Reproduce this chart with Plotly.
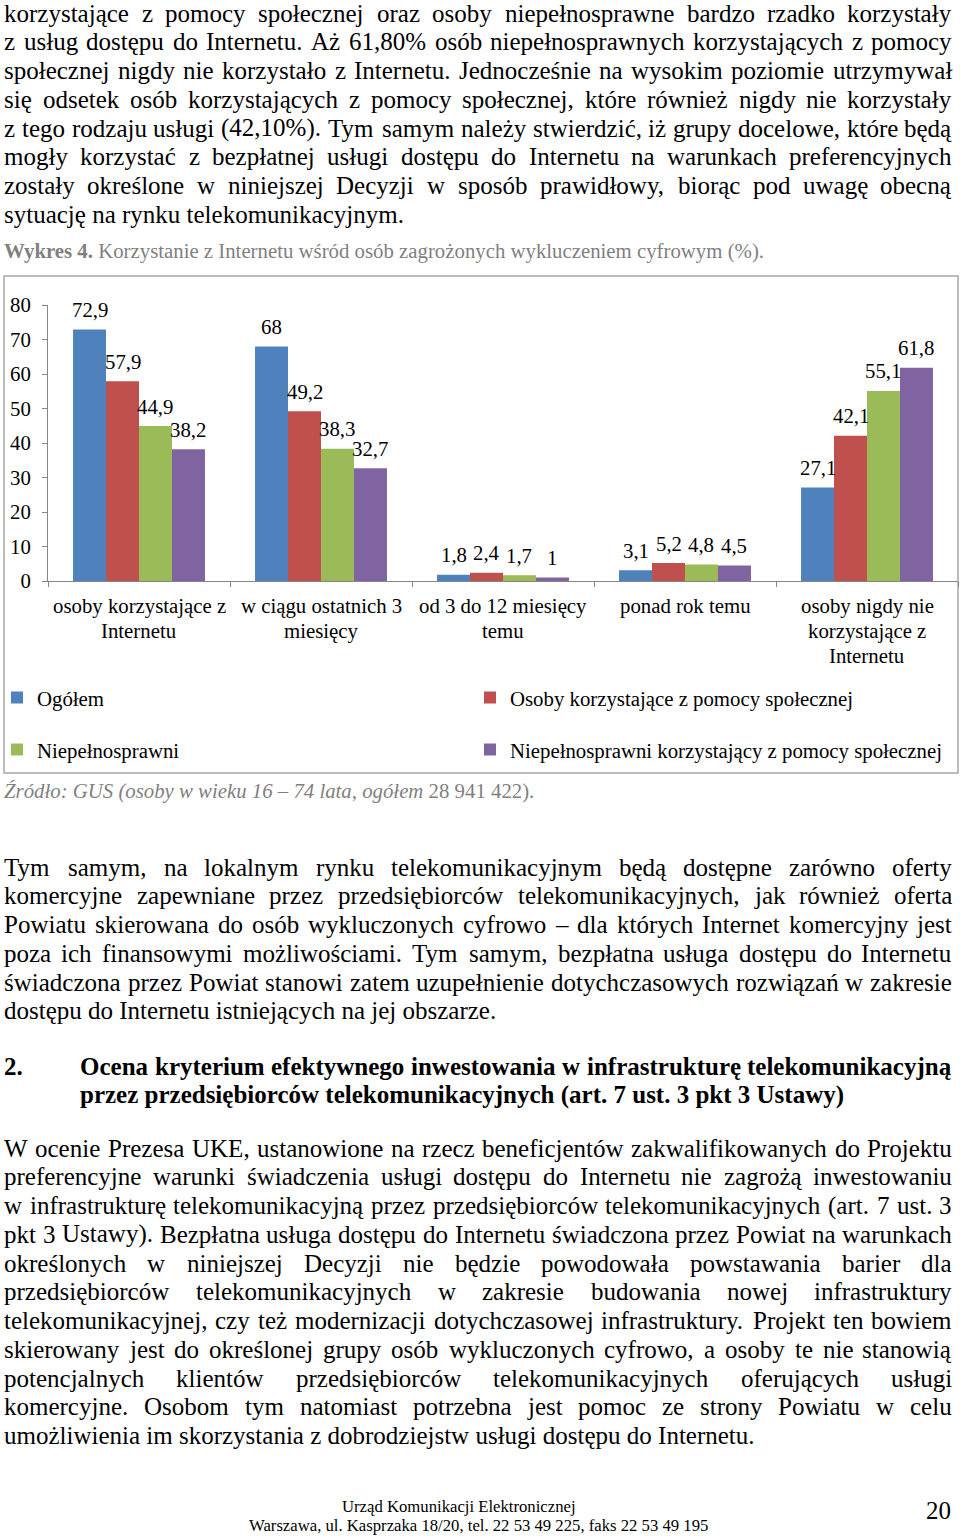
import glob
import struct
import plotly.graph_objects as go

# ---------------- data ----------------
categories = ["osoby korzystające z Internetu", "w ciągu ostatnich 3 miesięcy",
              "od 3 do 12 miesięcy temu", "ponad rok temu",
              "osoby nigdy nie korzystające z Internetu"]
category_lines = [["osoby korzystające z", "Internetu"],
                  ["w ciągu ostatnich 3", "miesięcy"],
                  ["od 3 do 12 miesięcy", "temu"],
                  ["ponad rok temu"],
                  ["osoby nigdy nie", "korzystające z", "Internetu"]]
series_names = ["Ogółem", "Osoby korzystające z pomocy społecznej",
                "Niepełnosprawni", "Niepełnosprawni korzystający z pomocy społecznej"]
ogolem = [72.9, 68, 1.8, 3.1, 27.1]
pomoc_spoleczna = [57.9, 49.2, 2.4, 5.2, 42.1]
niepelnosprawni = [44.9, 38.3, 1.7, 4.8, 55.1]
niepelnosprawni_pomoc = [38.2, 32.7, 1.0, 4.5, 61.8]
series_values = [ogolem, pomoc_spoleczna, niepelnosprawni, niepelnosprawni_pomoc]
y_ticks = [0, 10, 20, 30, 40, 50, 60, 70, 80]

para1 = [
    "korzystające z pomocy społecznej oraz osoby niepełnosprawne bardzo rzadko korzystały",
    "z usług dostępu do Internetu. Aż 61,80% osób niepełnosprawnych korzystających z pomocy",
    "społecznej nigdy nie korzystało z Internetu. Jednocześnie na wysokim poziomie utrzymywał",
    "się odsetek osób korzystających z pomocy społecznej, które również nigdy nie korzystały",
    "z tego rodzaju usługi (42,10%). Tym samym należy stwierdzić, iż grupy docelowe, które będą",
    "mogły korzystać z bezpłatnej usługi dostępu do Internetu na warunkach preferencyjnych",
    "zostały określone w niniejszej Decyzji w sposób prawidłowy, biorąc pod uwagę obecną",
    "sytuację na rynku telekomunikacyjnym.",
]
caption_bold = "Wykres 4."
caption_text = "Korzystanie z Internetu wśród osób zagrożonych wykluczeniem cyfrowym (%)."
source_italic = "Źródło: GUS (osoby w wieku 16 – 74 lata, ogółem"
source_plain = "28 941 422)."
para2 = [
    "Tym samym, na lokalnym rynku telekomunikacyjnym będą dostępne zarówno oferty",
    "komercyjne zapewniane przez przedsiębiorców telekomunikacyjnych, jak również oferta",
    "Powiatu skierowana do osób wykluczonych cyfrowo – dla których Internet komercyjny jest",
    "poza ich finansowymi możliwościami. Tym samym, bezpłatna usługa dostępu do Internetu",
    "świadczona przez Powiat stanowi zatem uzupełnienie dotychczasowych rozwiązań w zakresie",
    "dostępu do Internetu istniejących na jej obszarze.",
]
heading_num = "2."
heading = [
    "Ocena kryterium efektywnego inwestowania w infrastrukturę telekomunikacyjną",
    "przez przedsiębiorców telekomunikacyjnych (art. 7 ust. 3 pkt 3 Ustawy)",
]
para3 = [
    "W ocenie Prezesa UKE, ustanowione na rzecz beneficjentów zakwalifikowanych do Projektu",
    "preferencyjne warunki świadczenia usługi dostępu do Internetu nie zagrożą inwestowaniu",
    "w infrastrukturę telekomunikacyjną przez przedsiębiorców telekomunikacyjnych (art. 7 ust. 3",
    "pkt 3 Ustawy). Bezpłatna usługa dostępu do Internetu świadczona przez Powiat na warunkach",
    "określonych w niniejszej Decyzji nie będzie powodowała powstawania barier dla",
    "przedsiębiorców telekomunikacyjnych w zakresie budowania nowej infrastruktury",
    "telekomunikacyjnej, czy też modernizacji dotychczasowej infrastruktury. Projekt ten bowiem",
    "skierowany jest do określonej grupy osób wykluczonych cyfrowo, a osoby te nie stanowią",
    "potencjalnych klientów przedsiębiorców telekomunikacyjnych oferujących usługi",
    "komercyjne. Osobom tym natomiast potrzebna jest pomoc ze strony Powiatu w celu",
    "umożliwienia im skorzystania z dobrodziejstw usługi dostępu do Internetu.",
]
footer = ["Urząd Komunikacji Elektronicznej",
          "Warszawa, ul. Kasprzaka 18/20, tel. 22 53 49 225, faks 22 53 49 195"]
page_number = "20"

# ---------------- styling ----------------
W, H = 960, 1538
FONT = "Liberation Serif, Times New Roman, serif"
colors = ["#4F81BD", "#C0504D", "#9BBB59", "#8064A2"]
AXIS_GRAY = "#868686"


# ---------------- font metrics (for justified text) ----------------
def load_widths(name):
    paths = []
    for root in ["/usr/share/fonts", "/usr/local/share/fonts"]:
        paths += glob.glob(root + "/**/" + name, recursive=True)
    if not paths:
        return None
    try:
        data = open(paths[0], "rb").read()
        num = struct.unpack(">H", data[4:6])[0]
        tables = {}
        for i in range(num):
            tag, _, off, ln = struct.unpack(">4sIII", data[12 + 16 * i:28 + 16 * i])
            tables[tag.decode("latin-1")] = off
        head = tables["head"]
        upem = struct.unpack(">H", data[head + 18:head + 20])[0]
        hhea = tables["hhea"]
        nh = struct.unpack(">H", data[hhea + 34:hhea + 36])[0]
        hm = tables["hmtx"]
        adv = [struct.unpack(">H", data[hm + 4 * i:hm + 4 * i + 2])[0] for i in range(nh)]
        cm = tables["cmap"]
        nsub = struct.unpack(">H", data[cm + 2:cm + 4])[0]
        sub = None
        for i in range(nsub):
            pid, eid, off = struct.unpack(">HHI", data[cm + 4 + 8 * i:cm + 12 + 8 * i])
            if pid == 3 and eid == 1:
                sub = cm + off
        if sub is None or struct.unpack(">H", data[sub:sub + 2])[0] != 4:
            return None
        segx2 = struct.unpack(">H", data[sub + 6:sub + 8])[0]
        seg = segx2 // 2
        ends = struct.unpack(">%dH" % seg, data[sub + 14:sub + 14 + segx2])
        starts = struct.unpack(">%dH" % seg, data[sub + 16 + segx2:sub + 16 + 2 * segx2])
        deltas = struct.unpack(">%dh" % seg, data[sub + 16 + 2 * segx2:sub + 16 + 3 * segx2])
        ro_off = sub + 16 + 3 * segx2
        ros = struct.unpack(">%dH" % seg, data[ro_off:ro_off + segx2])
    except Exception:
        return None
    cache = {}

    def glyph_adv(ch):
        c = ord(ch)
        if c in cache:
            return cache[c]
        g = 0
        for i in range(seg):
            if starts[i] <= c <= ends[i]:
                if ros[i] == 0:
                    g = (c + deltas[i]) & 0xFFFF
                else:
                    addr = ro_off + 2 * i + ros[i] + 2 * (c - starts[i])
                    gg = struct.unpack(">H", data[addr:addr + 2])[0]
                    g = (gg + deltas[i]) & 0xFFFF if gg else 0
                break
        a = adv[g] if g < len(adv) else adv[-1]
        cache[c] = a / upem
        return cache[c]
    return glyph_adv


reg_adv = load_widths("LiberationSerif-Regular.ttf")
bold_adv = load_widths("LiberationSerif-Bold.ttf")


def text_width(s, size, bold=False):
    f = bold_adv if bold else reg_adv
    if f is None:
        return len(s) * size * (0.5 if bold else 0.46)
    return sum(f(ch) for ch in s) * size


annotations = []


def px(x):
    return x / W


def py(y):
    return 1 - y / H


def add_text(text, x, y, size, xanchor="left", color="black", bold=False):
    t = "<b>%s</b>" % text if bold else text
    annotations.append(dict(text=t, x=px(x), y=py(y), xref="paper", yref="paper",
                            xanchor=xanchor, yanchor="middle", showarrow=False,
                            borderpad=0, borderwidth=0,
                            font=dict(family=FONT, size=size, color=color)))


def add_line(text, y, x0, x1, size, justify, bold=False):
    words = text.split(" ")
    if not justify or len(words) < 2:
        add_text(text, x0, y, size, bold=bold)
        return
    widths = [text_width(w, size, bold) for w in words]
    gap = (x1 - x0 - sum(widths)) / (len(words) - 1)
    x = x0
    for i, (w, wd) in enumerate(zip(words, widths)):
        if i == len(words) - 1:
            add_text(w, x1, y, size, xanchor="right", bold=bold)
        else:
            add_text(w, x, y, size, bold=bold)
        x += wd + gap


def add_paragraph(lines, y0, x0=4, x1=952, size=25, step=28.75, bold=False):
    for i, line in enumerate(lines):
        last = i == len(lines) - 1
        add_line(line, y0 + i * step, x0, x1, size, justify=not last, bold=bold)


BODY = 25
add_paragraph(para1, 13)
add_paragraph(para2, 867)
add_text(heading_num, 4, 1066, BODY, bold=True)
add_paragraph(heading, 1066, x0=80, bold=True)
add_paragraph(para3, 1148)

# caption and source
add_text("<b>%s</b> %s" % (caption_bold, caption_text), 4, 251, 20.8, color="#7F7F7F")
add_text("<i>%s</i> %s" % (source_italic, source_plain), 4, 791, 20.8, color="#7F7F7F")
# footer
add_text(footer[0], 459, 1506, 16.7, xanchor="center")
add_text(footer[1], 478, 1525, 16.7, xanchor="center")
add_text(page_number, 951, 1510, 25, xanchor="right")

# category labels (multi-line, under each group)
CAT_FONT = 20.8
for ci, lines in enumerate(category_lines):
    for li, line in enumerate(lines):
        annotations.append(dict(text=line, x=categories[ci], xref="x", y=py(606 + li * 24.5),
                                yref="paper", xanchor="center", yanchor="middle",
                                showarrow=False, borderpad=0, borderwidth=0,
                                font=dict(family=FONT, size=CAT_FONT, color="black")))

# ---------------- chart geometry ----------------
X0, X1 = 48, 958          # plot area in px
Y_TOP, Y_BOT = 305, 581
BARGAP = 0.275
n_series = len(series_values)
cat_px = (X1 - X0) / len(categories)
bar_px = cat_px * (1 - BARGAP) / n_series

# legend placement: two columns, two rows (one legend box per entry)
legend_ids = ["legend", "legend2", "legend3", "legend4"]
legend_pos = [(-3, 698), (470, 698), (-3, 750), (470, 750)]

fig = go.Figure()
for si, (name, vals) in enumerate(zip(series_names, series_values)):
    fig.add_trace(go.Bar(
        x=categories, y=vals, name=name, marker=dict(color=colors[si], line=dict(width=0)),
        legend=legend_ids[si], hoverinfo="x+y+name",
    ))
    for ci, v in enumerate(vals):
        label = ("%g" % v).replace(".", ",")
        annotations.append(dict(text=label, x=categories[ci], y=v, xref="x", yref="y",
                                xshift=(si - (n_series - 1) / 2) * bar_px, yshift=20,
                                xanchor="center", yanchor="middle", showarrow=False,
                                borderpad=0, borderwidth=0,
                                font=dict(family=FONT, size=20.8, color="black")))

shapes = [dict(type="rect", xref="paper", yref="paper", x0=px(4), x1=px(958),
               y0=py(773), y1=py(276), line=dict(color="#A6A6A6", width=1.5),
               fillcolor="rgba(0,0,0,0)", layer="below")]

legend_layout = {}
for lid, (lx, ly) in zip(legend_ids, legend_pos):
    legend_layout[lid] = dict(x=px(lx), y=py(ly), orientation="h", xanchor="left",
                              yanchor="middle", bgcolor="rgba(0,0,0,0)", borderwidth=0,
                              font=dict(family=FONT, size=20.8, color="black"),
                              itemclick=False, itemdoubleclick=False)

fig.update_layout(
    template="none",
    width=W, height=H, autosize=False,
    margin=dict(l=0, r=0, t=0, b=0, pad=0, autoexpand=False),
    paper_bgcolor="white", plot_bgcolor="white",
    barmode="group", bargap=BARGAP, bargroupgap=0,
    showlegend=True,
    xaxis=dict(domain=[px(X0), px(X1)], range=[-0.5, 4.5], showline=True, linecolor=AXIS_GRAY,
               linewidth=1, ticks="outside", tickson="boundaries", ticklen=5,
               tickcolor=AXIS_GRAY, showticklabels=False, showgrid=False, zeroline=False,
               automargin=False, fixedrange=True),
    yaxis=dict(domain=[py(Y_BOT), py(Y_TOP)], range=[0, 80], tickvals=y_ticks,
               showline=True, linecolor=AXIS_GRAY, linewidth=1, ticks="outside", ticklen=5,
               tickcolor=AXIS_GRAY, showgrid=False, zeroline=False, automargin=False,
               ticklabelstandoff=7, fixedrange=True,
               tickfont=dict(family=FONT, size=20.8, color="black")),
    annotations=annotations,
    shapes=shapes,
    hovermode="closest",
    **legend_layout,
)

fig.write_html("out.html", config={"displayModeBar": False})
